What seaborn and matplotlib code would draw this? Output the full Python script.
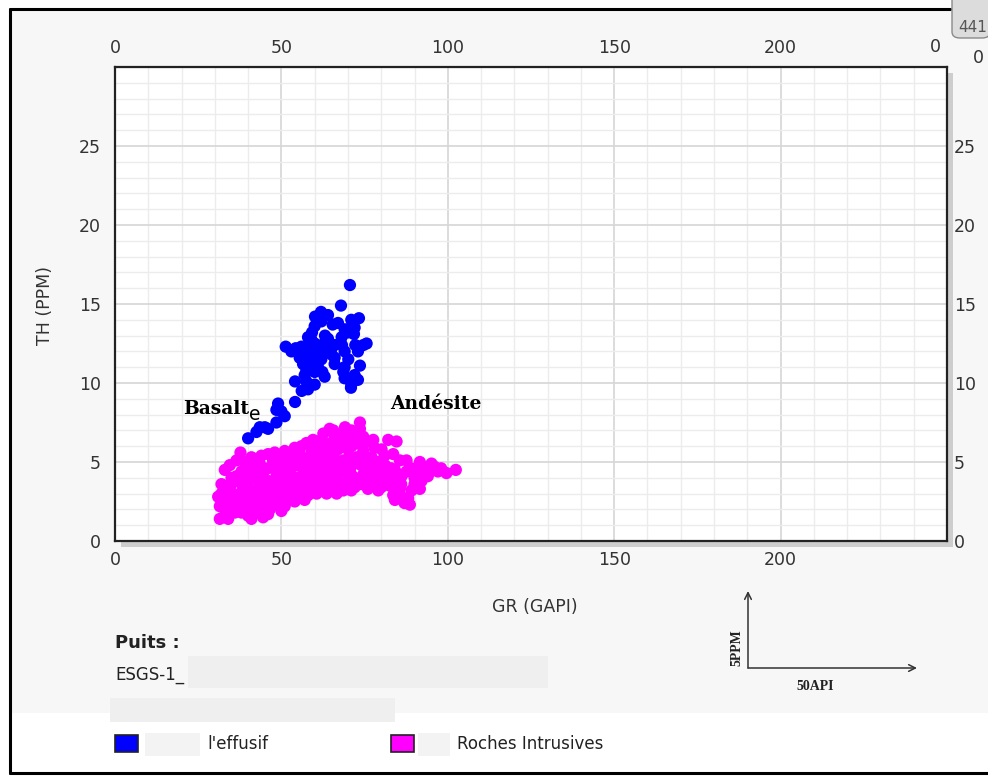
import matplotlib
matplotlib.use("Agg")
import numpy as np
import pandas as pd
import matplotlib.pyplot as plt
import seaborn as sns
from matplotlib.patches import Rectangle, FancyBboxPatch
from matplotlib.lines import Line2D

# ---------------- data ----------------
effusif_gr = [70.6, 67.9, 61.9, 60.1, 73.3, 71.0, 65.4, 60.0, 71.2, 69.0, 59.2, 63.1, 68.1, 71.8,
              59.1, 51.3, 54.3, 58.5, 62.8, 66.0, 68.2, 72.2, 75.6, 74.6, 57.5, 60.6, 64.1, 55.5,
              58.5, 61.6, 65.1, 70.1, 56.5, 59.6, 66.0, 73.6, 57.5, 60.0, 62.3, 68.6, 54.1, 57.5,
              60.0, 69.0, 71.6, 70.9, 56.1, 54.1, 49.0, 48.5, 51.0, 48.5, 46.0, 43.5, 42.5, 40.0,
              62.0, 63.0, 61.0, 64.0, 67.0, 70.0, 72.0, 65.0, 58.0, 60.0, 62.0, 59.0, 66.0, 72.0,
              71.0, 57.0, 58.0, 63.0, 69.0, 73.0, 56.0, 53.0, 69.0, 73.0, 61.0, 64.0, 45.0, 50.0]
effusif_th = [16.2, 14.9, 14.5, 14.2, 14.1, 14.0, 13.7, 13.6, 13.6, 13.4, 13.2, 13.0, 12.9, 13.1,
              12.7, 12.3, 12.2, 12.4, 12.5, 12.4, 12.4, 12.4, 12.5, 12.4, 12.0, 12.1, 12.1, 11.6,
              11.6, 11.7, 11.8, 11.5, 11.2, 11.3, 11.2, 11.1, 10.8, 10.7, 10.7, 10.7, 10.1, 10.1,
              9.9, 10.3, 10.1, 9.7, 9.5, 8.8, 8.7, 8.3, 7.9, 7.5, 7.1, 7.2, 6.9, 6.5,
              13.9, 12.0, 11.0, 12.8, 13.8, 13.2, 13.5, 12.2, 12.9, 12.5, 11.5, 11.9, 11.6, 10.5,
              9.9, 10.5, 9.6, 10.4, 12.0, 12.0, 12.3, 12.0, 11.0, 10.2, 14.0, 14.3, 7.2, 8.2]

intrusif_gr = [37.7, 33.0, 32.0, 31.0, 31.5, 31.5, 34.0, 35.5, 38.5, 41.5, 44.5, 43.5, 46.5, 48.5,
               51.5, 54.6, 56.6, 58.6, 60.6, 63.6, 65.6, 34.5, 36.5, 40.5, 43.5, 46.0, 47.5, 49.0,
               51.0, 53.5, 55.5, 57.5, 58.5, 59.5, 62.6, 64.5, 66.0, 62.5, 65.5, 60.5, 63.6, 65.5,
               56.6, 52.5, 48.5, 44.5, 40.5, 36.5, 34.5, 38.5, 42.5, 46.5, 50.5, 52.5, 37.5,
               33.0, 35.0, 36.0, 39.0, 40.0, 42.0, 45.0, 47.0, 49.0, 51.0, 53.0, 55.0, 57.0, 59.0,
               61.0, 62.0, 64.0, 44.0, 42.0, 38.0, 35.0, 33.0, 39.0, 41.0, 44.0, 48.0, 50.0, 52.0,
               54.0, 56.0, 58.0, 61.0, 63.0, 60.0, 67.0, 67.0, 54.0, 57.0, 50.0, 46.0, 41.0,
               73.6, 69.1, 73.6, 65.6, 67.6, 72.1, 74.6, 77.6, 82.1, 84.6, 80.1, 83.6, 71.1, 74.6,
               77.1, 72.6, 68.6, 65.6, 81.1, 85.6, 87.6, 91.6, 95.1, 99.6, 102.4, 94.6, 87.6, 84.1,
               82.6, 78.6, 74.6, 70.6, 66.6, 66.6, 68.6, 77.6, 79.6, 84.6, 86.1, 92.1, 91.6, 89.1,
               85.6, 82.6, 83.6, 84.1, 88.1, 88.6, 86.1, 79.1,
               70.0, 72.0, 74.0, 76.0, 70.0, 72.0, 74.0, 76.0, 68.0, 69.0, 75.0, 76.0, 71.0, 78.0,
               80.0, 72.0, 69.0, 90.0, 93.0, 96.0, 98.0,
               32.0, 33.0, 34.0, 35.0, 36.0, 37.0, 37.0, 38.0, 39.0, 39.0, 40.0, 40.0, 41.0, 41.0,
               42.0, 43.0, 43.0, 44.0, 45.0, 45.0, 46.0, 46.0, 47.0, 47.0, 48.0, 48.0, 49.0, 49.0,
               50.0, 50.0, 51.0, 51.0, 52.0, 52.0, 53.0, 53.0, 54.0, 55.0, 55.0, 56.0, 56.0, 57.0,
               58.0, 58.0, 59.0, 59.0, 60.0, 60.0, 61.0, 61.0, 62.0, 62.0, 63.0, 63.0, 64.0, 64.0,
               65.0, 65.0, 66.0, 66.0, 67.0, 67.0, 68.0, 68.0, 69.0, 70.0, 70.0, 70.0, 71.0, 71.0,
               73.0, 73.0, 73.0, 75.0, 75.0, 76.0, 77.0, 78.0, 79.0, 80.0, 81.0, 81.0, 83.0, 86.0,
               87.0, 89.0, 90.0, 92.0, 94.0, 97.0]
intrusif_th = [5.6, 4.5, 3.6, 2.8, 2.2, 1.4, 1.4, 2.2, 2.6, 2.0, 1.5, 2.2, 2.0, 2.4,
               2.6, 3.2, 2.8, 3.4, 3.0, 3.0, 3.4, 4.8, 5.1, 4.7, 4.9, 5.5, 5.1, 4.9,
               5.7, 5.3, 5.5, 6.2, 5.3, 6.4, 6.8, 7.1, 6.6, 5.9, 5.5, 4.7, 4.7, 4.5,
               4.5, 4.3, 4.1, 4.1, 3.9, 4.1, 3.4, 3.4, 3.2, 3.2, 3.4, 2.8, 3.0,
               2.6, 3.0, 1.8, 2.0, 1.6, 2.6, 2.8, 2.6, 3.0, 2.2, 3.6, 4.0, 3.8, 4.2,
               4.0, 3.6, 4.0, 3.6, 4.4, 4.4, 4.0, 3.2, 5.0, 5.3, 5.4, 5.6, 5.0, 4.8,
               5.9, 5.2, 4.8, 5.6, 6.2, 6.0, 4.9, 3.8, 2.5, 2.6, 1.9, 1.7, 1.4,
               7.5, 7.2, 7.1, 7.0, 6.4, 6.6, 6.6, 6.4, 6.4, 6.3, 5.8, 5.5, 6.0, 5.7,
               5.3, 5.3, 5.1, 5.0, 4.8, 5.1, 5.1, 5.0, 4.9, 4.3, 4.5, 4.4, 4.4, 4.5,
               4.1, 4.0, 4.2, 4.5, 4.1, 3.0, 3.2, 3.5, 3.8, 3.8, 4.1, 3.8, 3.3, 3.2,
               3.3, 3.5, 2.9, 2.6, 2.7, 2.3, 2.8, 3.2,
               5.8, 4.9, 4.8, 4.6, 3.8, 3.4, 3.6, 3.9, 4.4, 6.1, 6.2, 5.0, 7.0, 5.9,
               4.5, 4.0, 3.6, 4.0, 4.6, 4.7, 4.6,
               3.0, 2.0, 2.6, 3.6, 2.6, 3.8, 2.2, 1.8, 3.0, 4.0, 2.4, 3.4, 4.2, 2.8,
               1.8, 2.8, 3.8, 4.6, 2.3, 3.4, 3.8, 4.6, 2.2, 3.6, 2.9, 4.8, 3.6, 5.3,
               2.7, 4.4, 3.0, 4.0, 3.2, 5.4, 2.6, 4.6, 3.5, 3.0, 4.8, 3.4, 6.0, 4.4,
               2.9, 3.9, 3.4, 5.6, 3.6, 5.0, 3.2, 4.6, 4.4, 6.4, 3.4, 5.2, 3.2, 5.8,
               3.8, 6.2, 3.6, 5.2, 4.4, 5.8, 3.5, 6.8, 4.8, 3.4, 5.2, 6.6, 4.2, 3.2,
               3.9, 5.0, 6.2, 3.8, 5.4, 3.3, 4.5, 3.8, 5.0, 3.4, 3.9, 5.4, 4.6, 3.6,
               2.4, 4.6, 3.6, 4.4, 4.1, 4.4]

groups = ["l'effusif", "Roches Intrusives"]
group_colors = ["#0000ff", "#ff00ff"]
x_ticks = [0, 50, 100, 150, 200]
y_ticks = [0, 5, 10, 15, 20, 25]

df = pd.DataFrame({
    "GR": effusif_gr + intrusif_gr,
    "TH": effusif_th + intrusif_th,
    "Groupe": [groups[0]] * len(effusif_gr) + [groups[1]] * len(intrusif_gr),
})
palette = dict(zip(groups, group_colors))

# ---------------- figure ----------------
sns.set_theme(style="white")
plt.rcParams['font.family'] = ['DejaVu Sans']

W, H = 988, 778
fig = plt.figure(figsize=(W / 100, H / 100), dpi=100)
fig.patch.set_facecolor("white")

def fx(px):
    return px / W

def fy(py):
    return 1 - py / H

def frect(x0, y0, x1, y1, **kw):
    r = Rectangle((fx(x0), fy(y1)), fx(x1) - fx(x0), fy(y0) - fy(y1),
                  transform=fig.transFigure, **kw)
    fig.patches.append(r)
    return r

# panel background and shadow
frect(10, 10, 988, 713, facecolor="#f7f7f7", edgecolor="none", zorder=-3)
frect(121, 73, 953, 547, facecolor="#cdcdcd", edgecolor="none", zorder=-2)

# outer border
for (x0, y0, x1, y1) in [(10, 9, 950, 9), (10, 9, 10, 773), (10, 773, 988, 773)]:
    fig.lines.append(Line2D([fx(x0), fx(x1)], [fy(y0), fy(y1)], transform=fig.transFigure,
                            color="black", lw=2.2))

ax = fig.add_axes([fx(115), fy(541), fx(947) - fx(115), fy(67) - fy(541)])
ax.set_facecolor("white")

sns.scatterplot(data=df, x="GR", y="TH", hue="Groupe", palette=palette, s=78,
                edgecolor="none", linewidth=0, legend=False, ax=ax, zorder=3)

ax.set_xlim(0, 250)
ax.set_ylim(0, 30)
ax.set_xticks(x_ticks)
ax.set_yticks(y_ticks)
ax.set_xticks(np.arange(0, 251, 10), minor=True)
ax.set_yticks(np.arange(0, 31, 1), minor=True)
ax.grid(which="minor", color="#ececec", lw=1.0, zorder=0)
ax.grid(which="major", color="#d6d6d6", lw=1.2, zorder=0)
ax.set_axisbelow(True)
ax.tick_params(axis="both", which="both", length=0, labelsize=12.5, labelcolor="#333333")
ax.tick_params(axis="x", which="major", pad=7.5, labeltop=True, labelbottom=True)
ax.tick_params(axis="y", which="major", pad=10, labelleft=True, labelright=False)
for sp in ax.spines.values():
    sp.set_color("#222222")
    sp.set_linewidth(1.6)
ax.set_xlabel("")
ax.set_ylabel("")

# right-hand TH labels (same scale)
axr = ax.twinx()
axr.set_ylim(ax.get_ylim())
axr.set_yticks(y_ticks)
axr.tick_params(axis="y", length=0, pad=5, labelsize=12.5, labelcolor="#333333")
axr.grid(False)
for sp in axr.spines.values():
    sp.set_visible(False)
axr.set_ylabel("")

# axis titles
fig.text(fx(535), fy(607), "GR (GAPI)", ha="center", va="center", fontsize=12.5, color="#333333")
fig.text(fx(45), fy(305), "TH (PPM)", ha="center", va="center", rotation=90, fontsize=12.5,
         color="#333333")
fig.text(fx(935), fy(47), "0", ha="center", va="center", fontsize=12.5, color="#333333")
fig.text(fx(978), fy(58), "0", ha="center", va="center", fontsize=12.5, color="#333333")

# top-right tab
tab = FancyBboxPatch((fx(952), fy(38)), fx(990) - fx(952), fy(-10) - fy(38),
                     boxstyle="round,pad=0,rounding_size=0.008", transform=fig.transFigure,
                     facecolor="#dcdcdc", edgecolor="#8a8a8a", lw=1, zorder=2)
fig.patches.append(tab)
fig.text(fx(958), fy(28), "441", ha="left", va="center", fontsize=11, color="#555555")

# annotations in the plot
ax.text(20.4, 8.33, "Basalt", family=["DejaVu Serif"], fontweight="bold", fontsize=13.5,
        ha="left", va="center", color="black", zorder=4)
ax.text(40.2, 8.0, "e", fontsize=13.5, ha="left", va="center", color="black", zorder=4)
ax.text(82.6, 8.65, "Andésite", family=["DejaVu Serif"], fontweight="bold", fontsize=13.5,
        ha="left", va="center", color="black", zorder=4)

# well info block
fig.text(fx(115), fy(643), "Puits :", ha="left", va="center", fontsize=13, fontweight="bold",
         color="#222222")
frect(188, 656, 548, 688, facecolor="#efefef", edgecolor="none", zorder=1)
fig.text(fx(115), fy(675), "ESGS-1_", ha="left", va="center", fontsize=12, color="#222222")
frect(110, 698, 395, 722, facecolor="#efefef", edgecolor="none", zorder=1)

# legend
leg_items = [(115, 145, 200, 207), (391, 418, 450, 457)]
for (sx, gx0, gx1, tx), g in zip(leg_items, groups):
    frect(sx, 735, sx + 23, 752, facecolor=palette[g], edgecolor="#222222", lw=1.2, zorder=2)
    frect(gx0, 733, gx1, 756, facecolor="#f3f3f3", edgecolor="none", zorder=1)
    fig.text(fx(tx), fy(744), g, ha="left", va="center", fontsize=12, color="#222222")

# scale arrows
ann_kw = dict(xycoords="figure pixels", textcoords="figure pixels",
              arrowprops=dict(arrowstyle="->", color="#333333", lw=1.1, shrinkA=0, shrinkB=0))
ax.annotate("", xy=(748, H - 591), xytext=(748, H - 668), **ann_kw)
ax.annotate("", xy=(917, H - 668), xytext=(748, H - 668), **ann_kw)
fig.text(fx(737), fy(648), "5PPM", rotation=90, ha="center", va="center",
         family=["Liberation Serif"], fontweight="bold", fontsize=10, color="#222222")
fig.text(fx(815), fy(686), "50API", ha="center", va="center",
         family=["Liberation Serif"], fontweight="bold", fontsize=10, color="#222222")

fig.savefig("out.png", dpi=100, facecolor="white")
